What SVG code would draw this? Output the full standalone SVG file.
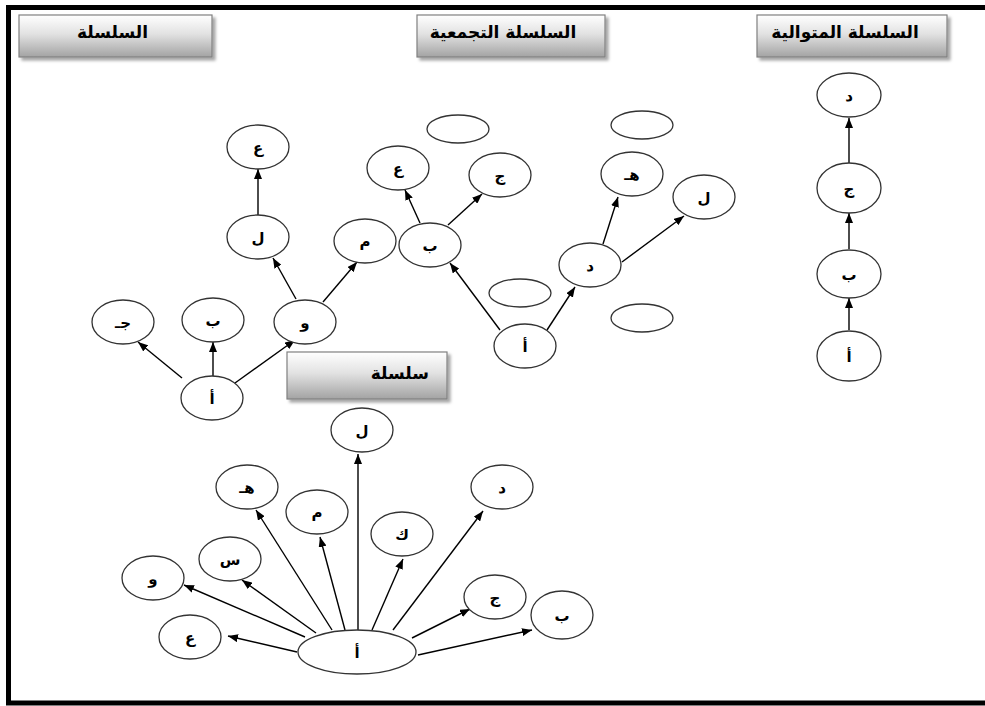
<svg xmlns="http://www.w3.org/2000/svg" width="985" height="706" viewBox="0 0 985 706">
<defs>
<linearGradient id="btn" x1="0" y1="0" x2="0" y2="1">
<stop offset="0" stop-color="#ffffff"/>
<stop offset="0.45" stop-color="#e2e2e2"/>
<stop offset="1" stop-color="#a3a3a3"/>
</linearGradient>
<filter id="sh" x="-10%" y="-20%" width="130%" height="160%">
<feDropShadow dx="3" dy="3" stdDeviation="1.5" flood-color="#000" flood-opacity="0.35"/>
</filter>
<marker id="arr" viewBox="0 0 10 8" refX="10" refY="4" markerWidth="10" markerHeight="8" markerUnits="userSpaceOnUse" orient="auto">
<path d="M0,0 L10,4 L0,8 z" fill="#000"/>
</marker>
</defs>
<style>
.btn{fill:url(#btn);stroke:#808080;stroke-width:1.2;filter:url(#sh)}
.ttl{font-family:"DejaVu Sans",sans-serif;font-size:17px;font-weight:bold;fill:#000}
.n ellipse{fill:#fff;stroke:#333;stroke-width:1.3}
.n text{font-family:"DejaVu Sans",sans-serif;font-size:15px;font-weight:bold;fill:#000;text-anchor:middle}
.e ellipse{fill:#fff;stroke:#333;stroke-width:1.3}
#edges line{stroke:#000;stroke-width:1.4;marker-end:url(#arr)}
</style>
<rect x="0" y="0" width="985" height="706" fill="#fff"/>
<rect x="8.5" y="7.5" width="1000" height="695.5" fill="none" stroke="#000" stroke-width="5"/>

<g id="title1"><rect class="btn" x="19" y="15" width="193" height="42"/><text class="ttl" x="148" y="38" text-anchor="end">السلسلة</text></g>
<g id="title2"><rect class="btn" x="417" y="15" width="188" height="42"/><text class="ttl" x="503" y="38" text-anchor="middle">السلسلة التجمعية</text></g>
<g id="title3"><rect class="btn" x="757" y="15" width="190" height="42"/><text class="ttl" x="845" y="38" text-anchor="middle">السلسلة المتوالية</text></g>
<g id="title4"><rect class="btn" x="287" y="352" width="160" height="47"/><text class="ttl" x="429" y="379" text-anchor="end">سلسلة</text></g>

<g id="edges">
<line x1="182" y1="378" x2="138" y2="342"/>
<line x1="213" y1="376" x2="213" y2="342"/>
<line x1="235" y1="383" x2="295" y2="340"/>
<line x1="296" y1="299" x2="273" y2="258"/>
<line x1="323" y1="302" x2="357" y2="262"/>
<line x1="258" y1="215" x2="258" y2="169"/>

<line x1="500" y1="330" x2="450" y2="263"/>
<line x1="547" y1="330" x2="575" y2="287"/>
<line x1="420" y1="223" x2="405" y2="190"/>
<line x1="448" y1="225" x2="482" y2="194"/>
<line x1="603" y1="244" x2="618" y2="197"/>
<line x1="622" y1="262" x2="684" y2="216"/>

<line x1="849" y1="330" x2="849" y2="298"/>
<line x1="849" y1="249" x2="849" y2="213"/>
<line x1="849" y1="163" x2="849" y2="118"/>

<line x1="297" y1="652" x2="228" y2="636"/>
<line x1="305" y1="637" x2="184" y2="585"/>
<line x1="316" y1="633" x2="242" y2="580"/>
<line x1="332" y1="630" x2="256" y2="510"/>
<line x1="345" y1="630" x2="320" y2="537"/>
<line x1="358" y1="630" x2="358" y2="454"/>
<line x1="372" y1="630" x2="403" y2="559"/>
<line x1="393" y1="630" x2="483" y2="511"/>
<line x1="412" y1="638" x2="470" y2="609"/>
<line x1="418" y1="655" x2="532" y2="630"/>
</g>

<g id="t1_a" class="n"><ellipse cx="212" cy="398" rx="31" ry="22"/><text x="212" y="404">أ</text></g>
<g id="t1_jim" class="n"><ellipse cx="123" cy="322" rx="31" ry="22"/><text x="123" y="328">جـ</text></g>
<g id="t1_ba" class="n"><ellipse cx="213" cy="320" rx="31" ry="22"/><text x="213" y="326">ب</text></g>
<g id="t1_waw" class="n"><ellipse cx="305" cy="322" rx="31" ry="22"/><text x="305" y="328">و</text></g>
<g id="t1_lam" class="n"><ellipse cx="258" cy="237" rx="31" ry="22"/><text x="258" y="243">ل</text></g>
<g id="t1_ain" class="n"><ellipse cx="258" cy="147" rx="31" ry="22"/><text x="258" y="153">ع</text></g>
<g id="t1_mim" class="n"><ellipse cx="365" cy="241" rx="31" ry="22"/><text x="365" y="247">م</text></g>

<g id="t2_a" class="n"><ellipse cx="525" cy="346" rx="31" ry="22"/><text x="525" y="352">أ</text></g>
<g id="t2_ba" class="n"><ellipse cx="430" cy="245" rx="31" ry="22"/><text x="430" y="251">ب</text></g>
<g id="t2_dal" class="n"><ellipse cx="590" cy="265" rx="31" ry="22"/><text x="590" y="271">د</text></g>
<g id="t2_ain" class="n"><ellipse cx="398" cy="168" rx="31" ry="22"/><text x="398" y="174">ع</text></g>
<g id="t2_jim" class="n"><ellipse cx="500" cy="175" rx="31" ry="22"/><text x="500" y="181">ج</text></g>
<g id="t2_ha" class="n"><ellipse cx="632" cy="174" rx="31" ry="22"/><text x="632" y="180">هـ</text></g>
<g id="t2_lam" class="n"><ellipse cx="704" cy="197" rx="31" ry="22"/><text x="704" y="203">ل</text></g>
<g id="t2_empty1" class="e"><ellipse cx="458" cy="129" rx="31" ry="14"/></g>
<g id="t2_empty2" class="e"><ellipse cx="520" cy="293" rx="31" ry="14"/></g>
<g id="t2_empty3" class="e"><ellipse cx="642" cy="125" rx="31" ry="14"/></g>
<g id="t2_empty4" class="e"><ellipse cx="642" cy="318" rx="31" ry="14"/></g>

<g id="t3_dal" class="n"><ellipse cx="849" cy="95" rx="32" ry="22"/><text x="849" y="101">د</text></g>
<g id="t3_jim" class="n"><ellipse cx="849" cy="188" rx="32" ry="25"/><text x="849" y="194">ج</text></g>
<g id="t3_ba" class="n"><ellipse cx="849" cy="274" rx="32" ry="24"/><text x="849" y="280">ب</text></g>
<g id="t3_a" class="n"><ellipse cx="849" cy="356" rx="32" ry="25"/><text x="849" y="362">أ</text></g>

<g id="t4_a" class="n"><ellipse cx="357" cy="652" rx="59" ry="22"/><text x="357" y="658">أ</text></g>
<g id="t4_lam" class="n"><ellipse cx="362" cy="430" rx="31" ry="22"/><text x="362" y="436">ل</text></g>
<g id="t4_ha" class="n"><ellipse cx="247" cy="487" rx="31" ry="22"/><text x="247" y="493">هـ</text></g>
<g id="t4_mim" class="n"><ellipse cx="317" cy="512" rx="31" ry="22"/><text x="317" y="518">م</text></g>
<g id="t4_kaf" class="n"><ellipse cx="402" cy="534" rx="31" ry="22"/><text x="402" y="540">ك</text></g>
<g id="t4_dal" class="n"><ellipse cx="502" cy="487" rx="31" ry="22"/><text x="502" y="493">د</text></g>
<g id="t4_sin" class="n"><ellipse cx="230" cy="559" rx="31" ry="22"/><text x="230" y="565">س</text></g>
<g id="t4_waw" class="n"><ellipse cx="153" cy="578" rx="31" ry="22"/><text x="153" y="584">و</text></g>
<g id="t4_jim" class="n"><ellipse cx="495" cy="597" rx="31" ry="22"/><text x="495" y="603">ج</text></g>
<g id="t4_ba" class="n"><ellipse cx="562" cy="615" rx="31" ry="24"/><text x="562" y="621">ب</text></g>
<g id="t4_ain" class="n"><ellipse cx="190" cy="637" rx="31" ry="22"/><text x="190" y="643">ع</text></g>
</svg>
